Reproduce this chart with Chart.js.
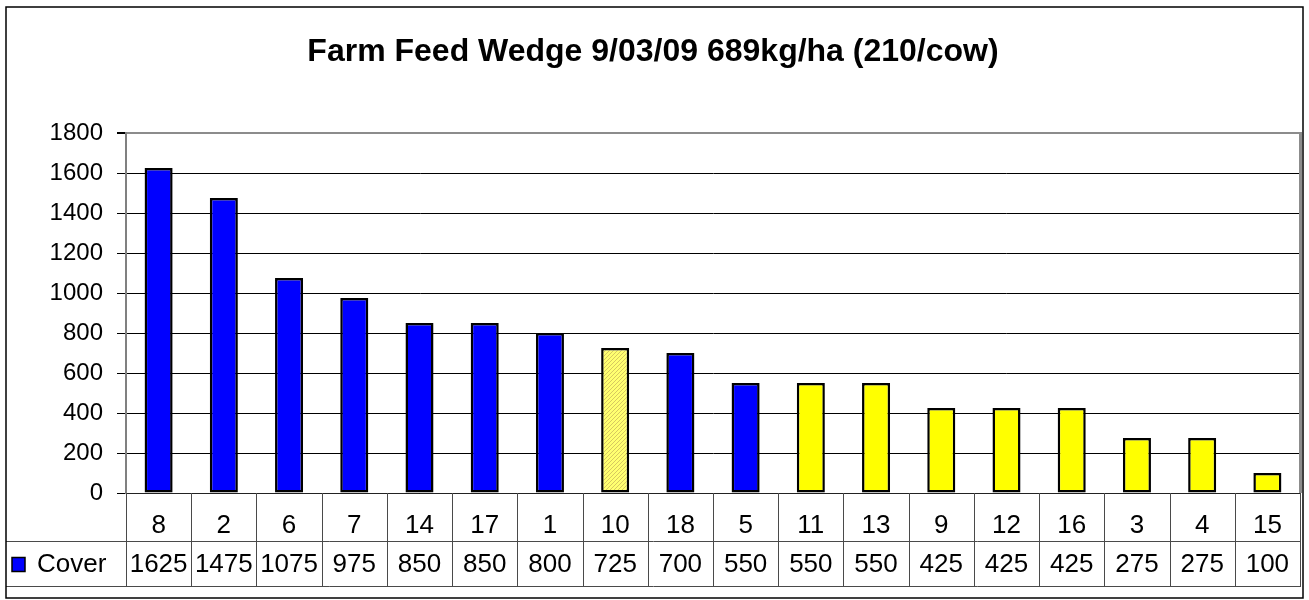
<!DOCTYPE html>
<html>
<head>
<meta charset="utf-8">
<script src="https://cdn.jsdelivr.net/npm/chart.js@4.4.0/dist/chart.umd.min.js"></script>
<style>
body { margin: 0; background: #fff; }
canvas { display: block; }
</style>
</head>
<body>
<canvas id="miGrafico" width="1309" height="600"></canvas>
<script>
const titulo = 'Farm Feed Wedge 9/03/09 689kg/ha (210/cow)';
const paddocks = ['8', '2', '6', '7', '14', '17', '1', '10', '18', '5', '11', '13', '9', '12', '16', '3', '4', '15'];
const cover = [1625, 1475, 1075, 975, 850, 850, 800, 725, 700, 550, 550, 550, 425, 425, 425, 275, 275, 100];
// paddock group: A = blue, B = hatched, C = yellow
const grupo = ['A', 'A', 'A', 'A', 'A', 'A', 'A', 'B', 'A', 'A', 'C', 'C', 'C', 'C', 'C', 'C', 'C', 'C'];
const serieNombre = 'Cover';
const yMax = 1800;
const yPaso = 200;

const FONT = "'Liberation Sans', Arial, sans-serif";

// hatched yellow fill for paddock 10
function rayado() {
    const c = document.createElement('canvas');
    c.width = 4; c.height = 4;
    const g = c.getContext('2d');
    g.fillStyle = '#ffff70';
    g.fillRect(0, 0, 4, 4);
    g.fillStyle = '#d6c860';
    for (let i = 0; i < 4; i++) g.fillRect(i, 3 - i, 1, 1);
    return g.createPattern(c, 'repeat');
}
const patron = rayado();
const colores = { A: '#0000ff', B: patron, C: '#ffff00' };

const marco = {
    id: 'marco',
    beforeDraw(chart) {
        const ctx = chart.ctx;
        ctx.save();
        ctx.fillStyle = '#fff';
        ctx.fillRect(0, 0, chart.width, chart.height);
        ctx.restore();
    },
    afterDraw(chart) {
        const ctx = chart.ctx;
        const a = chart.chartArea;
        const xs = chart.scales.x;
        const n = paddocks.length;
        const cw = (a.right - a.left) / n;
        const fila1 = a.bottom + 48;
        const fila2 = fila1 + 45;
        ctx.save();
        // plot border (grey right side)
        ctx.strokeStyle = '#8c8c8c';
        ctx.lineWidth = 3;
        ctx.beginPath();
        ctx.moveTo(a.right + 0.5, a.top - 1);
        ctx.lineTo(a.right + 0.5, a.bottom);
        ctx.stroke();
        // data table lines
        ctx.strokeStyle = '#4a4a4a';
        ctx.lineWidth = 1;
        ctx.beginPath();
        for (let i = 0; i <= n; i++) {
            const x = Math.round(a.left + i * cw) + 0.5;
            ctx.moveTo(x, a.bottom);
            ctx.lineTo(x, fila2);
        }
        ctx.moveTo(6, fila1 + 0.5);
        ctx.lineTo(a.right + 1, fila1 + 0.5);
        ctx.moveTo(6, fila2 + 0.5);
        ctx.lineTo(a.right + 1, fila2 + 0.5);
        ctx.stroke();
        // values row
        ctx.fillStyle = '#000';
        ctx.font = '26px ' + FONT;
        ctx.textAlign = 'center';
        ctx.textBaseline = 'middle';
        const ym = (fila1 + fila2) / 2 + 1;
        cover.forEach((v, i) => ctx.fillText(String(v), xs.getPixelForValue(i), ym));
        // legend key
        ctx.fillStyle = colores.A;
        ctx.fillRect(12, ym - 7, 13, 14);
        ctx.strokeStyle = '#000';
        ctx.lineWidth = 1.5;
        ctx.strokeRect(12, ym - 7, 13, 14);
        ctx.fillStyle = '#000';
        ctx.textAlign = 'left';
        ctx.fillText(serieNombre, 37, ym);
        // outer frame
        ctx.strokeStyle = '#000';
        ctx.lineWidth = 1.5;
        ctx.strokeRect(6, 7, 1297, 591);
        ctx.restore();
    }
};

new Chart(document.getElementById('miGrafico'), {
    type: 'bar',
    data: {
        labels: paddocks,
        datasets: [{
            label: serieNombre,
            data: cover,
            backgroundColor: grupo.map(g => colores[g]),
            borderColor: '#000',
            borderWidth: 2.5,
            borderSkipped: false,
            barPercentage: 0.43,
            categoryPercentage: 1
        }]
    },
    options: {
        responsive: false,
        animation: false,
        devicePixelRatio: 1,
        layout: { padding: { left: 6, right: 9, top: 0, bottom: 59 } },
        plugins: {
            legend: { display: false },
            tooltip: { enabled: false },
            title: {
                display: true,
                text: titulo,
                color: '#000',
                font: { family: FONT, size: 32, weight: 'bold', lineHeight: 1.2 },
                padding: { top: 33, bottom: 61.6 }
            }
        },
        scales: {
            x: {
                grid: { display: false },
                border: { display: true, color: '#222', width: 1 },
                ticks: {
                    color: '#000',
                    font: { family: FONT, size: 26 },
                    padding: 9,
                    maxRotation: 0,
                    autoSkip: false
                },
                afterFit(s) { s.height = 48; }
            },
            y: {
                min: 0,
                max: yMax,
                grid: {
                    color: c => (c.tick && c.tick.value === yMax ? '#8c8c8c' : '#000'),
                    lineWidth: c => (c.tick && c.tick.value === yMax ? 2 : 1),
                    tickLength: 9,
                    tickColor: '#000'
                },
                border: { display: true, color: '#808080', width: 2 },
                ticks: {
                    stepSize: yPaso,
                    color: '#000',
                    font: { family: FONT, size: 24 },
                    padding: 14,
                    callback: v => String(v)
                },
                afterFit(s) { s.width = 120; }
            }
        }
    },
    plugins: [marco]
});
</script>
</body>
</html>
